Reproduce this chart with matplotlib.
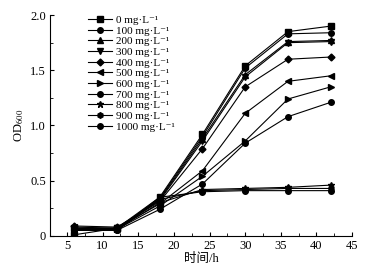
import numpy as np
import matplotlib.pyplot as plt
from matplotlib.ticker import MultipleLocator

plt.rcParams['font.family'] = ['Liberation Serif', 'DejaVu Serif', 'Noto Sans CJK SC']
plt.rcParams['mathtext.fontset'] = 'stix'

hours = [6, 12, 18, 24, 30, 36, 42]
labels = ["0", "100", "200", "300", "400", "500", "600", "700", "800", "900", "1000"]
markers = ["s", "o", "^", "v", "D", "<", ">", "o", "*", "h", "o"]

od = [
    [0.01, 0.07, 0.35, 0.92, 1.54, 1.85, 1.90],
    [0.05, 0.06, 0.34, 0.90, 1.52, 1.83, 1.84],
    [0.06, 0.07, 0.33, 0.88, 1.46, 1.76, 1.77],
    [0.07, 0.07, 0.32, 0.86, 1.44, 1.75, 1.76],
    [0.09, 0.08, 0.31, 0.79, 1.35, 1.60, 1.62],
    [0.08, 0.07, 0.29, 0.59, 1.11, 1.40, 1.45],
    [0.07, 0.06, 0.27, 0.54, 0.86, 1.24, 1.35],
    [0.06, 0.05, 0.24, 0.47, 0.84, 1.08, 1.21],
    [0.05, 0.06, 0.30, 0.42, 0.43, 0.44, 0.46],
    [0.05, 0.05, 0.33, 0.41, 0.42, 0.43, 0.43],
    [0.05, 0.05, 0.35, 0.40, 0.41, 0.41, 0.41],
]

fig = plt.figure(figsize=(3.84, 2.74), dpi=100)
ax = fig.add_axes([0.130, 0.139, 0.787, 0.806])
for lab, mk, y in zip(labels, markers, od):
    ms = 5 if mk == "*" else (3.5 if mk == "D" else 4)
    ax.plot(hours, y, color="black", lw=0.8, marker=mk, markersize=ms,
            label=lab + " mg·L⁻¹")

ax.set_xlim(2.6, 45)
ax.set_ylim(0, 2.0)
ax.xaxis.set_major_locator(MultipleLocator(5))
ax.xaxis.set_minor_locator(MultipleLocator(2.5))
ax.yaxis.set_minor_locator(MultipleLocator(0.25))
ax.set_yticks([0, 0.5, 1.0, 1.5, 2.0])
ax.set_yticklabels(["0", "0.5", "1.0", "1.5", "2.0"])
ax.spines["top"].set_visible(False)
ax.spines["right"].set_visible(False)
ax.tick_params(which="both", direction="in", labelsize=9)
ax.tick_params(which="major", length=3, pad=3)
ax.tick_params(which="minor", length=2)
ax.set_xlabel("时间/h", fontsize=9, labelpad=1)
ax.set_ylabel("OD$_{600}$", fontsize=9, labelpad=3)

ax.legend(loc="upper left", bbox_to_anchor=(0.10, 1.035), frameon=False,
          fontsize=8, handlelength=2.2, labelspacing=0.08, borderpad=0.2,
          handletextpad=0.3)

fig.savefig("out.png", dpi=100)
